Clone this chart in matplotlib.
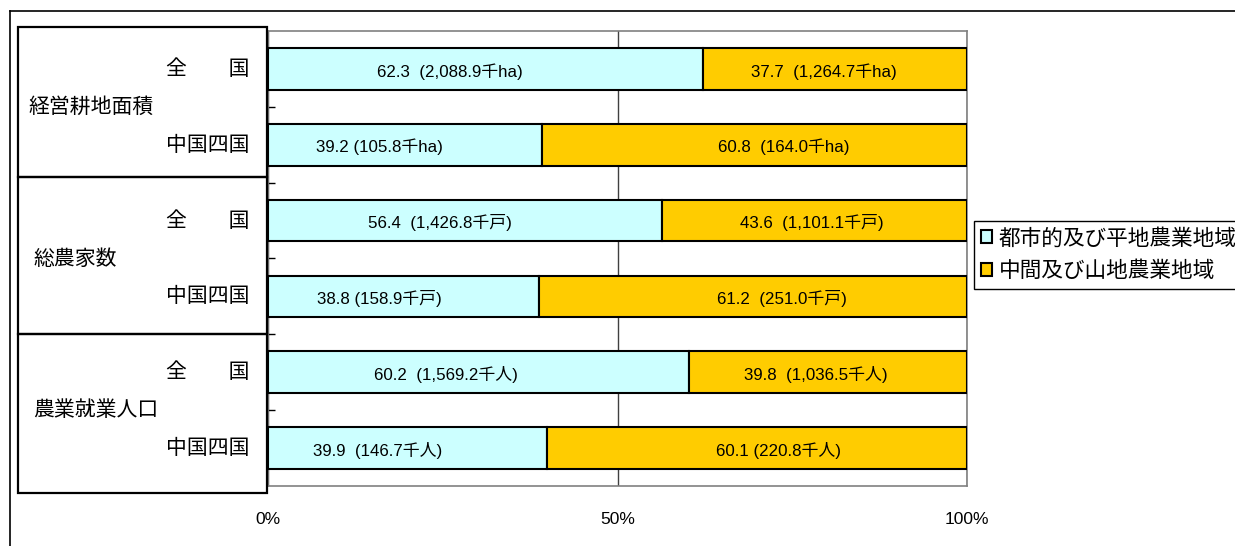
import matplotlib.pyplot as plt
from matplotlib.patches import Rectangle
from matplotlib.lines import Line2D
from matplotlib.transforms import blended_transform_factory

# data
groups = ['経営耕地面積', '総農家数', '農業就業人口']
regions = ['全　　国', '中国四国']
flat_share = [62.3, 39.2, 56.4, 38.8, 60.2, 39.9]
mount_share = [37.7, 60.8, 43.6, 61.2, 39.8, 60.1]
flat_labels = ['62.3  (2,088.9千ha)', '39.2 (105.8千ha)',
               '56.4  (1,426.8千戸)', '38.8 (158.9千戸)',
               '60.2  (1,569.2千人)', '39.9  (146.7千人)']
mount_labels = ['37.7  (1,264.7千ha)', '60.8  (164.0千ha)',
                '43.6  (1,101.1千戸)', '61.2  (251.0千戸)',
                '39.8  (1,036.5千人)', '60.1 (220.8千人)']
series_names = ['都市的及び平地農業地域', '中間及び山地農業地域']
tick_labels = ['0%', '50%', '100%']

# hand placed label positions (percent)
flat_label_x = [26.0, 15.9, 24.6, 15.9, 25.5, 15.7]
mount_label_x = [79.5, 73.8, 77.8, 73.5, 78.3, 73.1]

W, H = 1235, 546
def fx(px):
    return px / W
def fy(py):
    return 1 - py / H

jp = 'Noto Sans CJK JP'
num_font = ['Liberation Sans', jp]

fig = plt.figure(figsize=(W / 100, H / 100), dpi=100)
ax = fig.add_axes([fx(268), fy(486), 699 / W, 455 / H])

ypos = list(range(len(flat_share)))
ax.barh(ypos, flat_share, height=0.55, color='#CCFFFF', edgecolor='black',
        linewidth=1.5, label=series_names[0], zorder=3)
ax.barh(ypos, mount_share, left=flat_share, height=0.55, color='#FFCC00',
        edgecolor='black', linewidth=1.5, label=series_names[1], zorder=3)

for i in ypos:
    ax.text(flat_label_x[i], i + 0.03, flat_labels[i], ha='center', va='center',
            fontsize=12.2, family=num_font, zorder=4)
    ax.text(mount_label_x[i], i + 0.03, mount_labels[i], ha='center', va='center',
            fontsize=12.2, family=num_font, zorder=4)

ax.set_xlim(0, 100)
ax.set_ylim(5.5, -0.5)
ax.set_xticks([0, 50, 100])
ax.set_xticklabels(tick_labels, family='Liberation Sans', fontsize=12.5)
ax.tick_params(axis='x', length=0, pad=19)
ax.set_yticks([0.5, 1.5, 2.5, 3.5, 4.5])
ax.set_yticklabels([])
ax.tick_params(axis='y', direction='in', length=5, width=1, color='black')
ax.xaxis.grid(True, color='#404040', linewidth=1)
ax.set_axisbelow(True)
for s in ax.spines.values():
    s.set_color('#808080')
    s.set_linewidth(1.2)

# left label table
trans = blended_transform_factory(fig.transFigure, ax.transData)
for top, bottom in [(27, 177), (177, 334), (334, 493)]:
    fig.add_artist(Rectangle((fx(18), fy(bottom)), (267 - 18) / W, (bottom - top) / H,
                             fill=False, edgecolor='black', linewidth=1.6,
                             transform=fig.transFigure, zorder=5))
group_x = [28, 33, 33]
for g, name in enumerate(groups):
    ax.text(fx(group_x[g]), g * 2 + 0.5, name, transform=trans, ha='left',
            va='center', fontsize=15, family=jp)
    for r, reg in enumerate(regions):
        ax.text(fx(250), g * 2 + r, reg, transform=trans, ha='right',
                va='center', fontsize=15, family=jp)

# outer frame (cut at the right and bottom)
fig.add_artist(Line2D([fx(10), fx(10)], [fy(11), 0], color='black', linewidth=1.2))
fig.add_artist(Line2D([fx(10), 1], [fy(11), fy(11)], color='black', linewidth=1.2))

leg = ax.legend(loc='upper left', bbox_to_anchor=(fx(974), fy(221)),
                bbox_transform=fig.transFigure, fancybox=False, edgecolor='black',
                framealpha=1, prop={'family': jp, 'size': 15.6}, handlelength=0.55,
                handleheight=0.55, handletextpad=0.3, borderpad=0.3,
                labelspacing=0.5, borderaxespad=0)
leg.get_frame().set_linewidth(1.0)

fig.savefig('out.png', dpi=100)
